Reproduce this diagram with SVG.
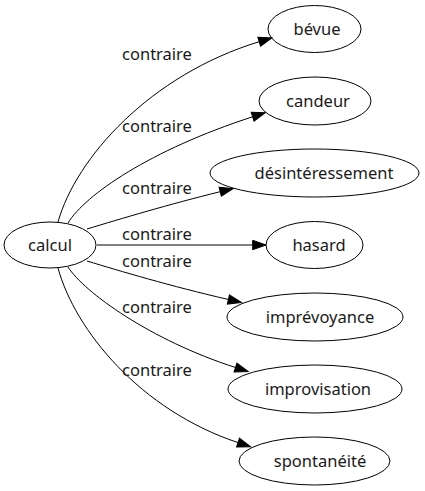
<svg xmlns="http://www.w3.org/2000/svg" width="425" height="491" viewBox="0 0 425 491">
<style>
.n ellipse{fill:none;stroke:#000;stroke-width:1}
text{font-family:"Noto Sans","DejaVu Sans",sans-serif;font-size:16.5px;fill:#1a1a1a;text-anchor:middle}
.e path{fill:none;stroke:#000;stroke-width:1;marker-end:url(#ah)}
</style>
<defs>
<marker id="ah" markerUnits="userSpaceOnUse" markerWidth="14" markerHeight="10" refX="0" refY="5" orient="auto" viewBox="0 0 14 10" overflow="visible">
<path d="M0,0.3 L13.3,5 L0,9.7 z" fill="#000" stroke="#000" stroke-width="1"/>
</marker>
</defs>
<rect width="425" height="491" fill="#fff"/>
<g id="edges" class="e">
<path d="M58,222 C76,158 150,75 259.2,41.7"/>
<path d="M68,223 C85,195 150,150 252.6,116.8"/>
<path d="M87,229 C120,219 170,204 220.2,191.7"/>
<path d="M97,245 L252.7,245"/>
<path d="M87,261 C120,271 170,286 228.4,299.5"/>
<path d="M68,267 C84,292 150,340 235.5,367.5"/>
<path d="M58,268 C75,330 140,410 238,442.6"/>
</g>
<g id="labels">
<text x="157" y="60">contraire</text>
<text x="157" y="132">contraire</text>
<text x="157" y="194">contraire</text>
<text x="157" y="240">contraire</text>
<text x="157" y="267">contraire</text>
<text x="157" y="313">contraire</text>
<text x="157" y="376">contraire</text>
</g>
<g id="calcul" class="n"><ellipse cx="50" cy="245" rx="46" ry="23"/><text x="50" y="250.5">calcul</text></g>
<g id="bevue" class="n"><ellipse cx="314.5" cy="29" rx="46.5" ry="23.5"/><text x="317" y="34.5">bévue</text></g>
<g id="candeur" class="n"><ellipse cx="315" cy="101" rx="56" ry="24"/><text x="318" y="106.5">candeur</text></g>
<g id="desinteressement" class="n"><ellipse cx="314.5" cy="173" rx="104.5" ry="24"/><text x="324" y="178.5">désintéressement</text></g>
<g id="hasard" class="n"><ellipse cx="314.5" cy="245" rx="48.5" ry="23.5"/><text x="319" y="250.5">hasard</text></g>
<g id="imprevoyance" class="n"><ellipse cx="315" cy="317" rx="88" ry="24"/><text x="320" y="322.5">imprévoyance</text></g>
<g id="improvisation" class="n"><ellipse cx="315" cy="389" rx="87" ry="24"/><text x="318" y="394.5">improvisation</text></g>
<g id="spontaneite" class="n"><ellipse cx="314.5" cy="461" rx="75.5" ry="24"/><text x="320" y="466.5">spontanéité</text></g>
</svg>
